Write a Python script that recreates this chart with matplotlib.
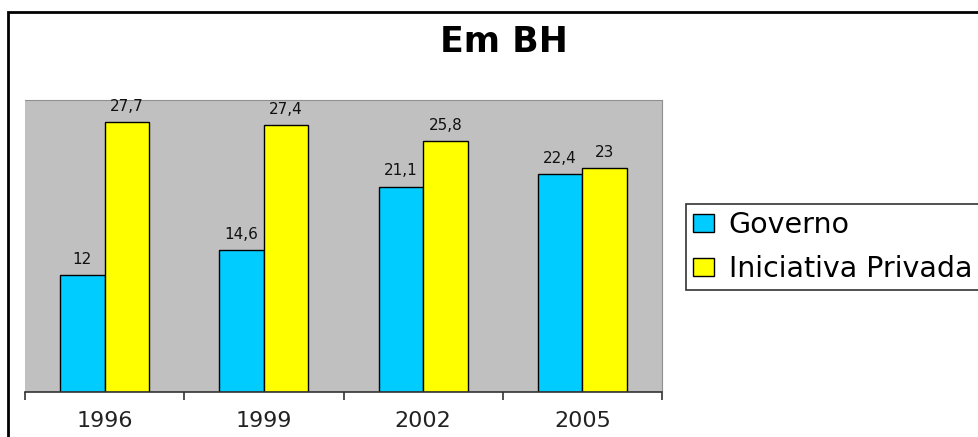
import numpy as np
import matplotlib.pyplot as plt
from matplotlib.patches import Rectangle

anos = ["1996", "1999", "2002", "2005"]
governo = [12, 14.6, 21.1, 22.4]
privada = [27.7, 27.4, 25.8, 23]
rotulos_gov = ["12", "14,6", "21,1", "22,4"]
rotulos_priv = ["27,7", "27,4", "25,8", "23"]

plt.rcParams['font.family'] = ['DejaVu Sans']

fig = plt.figure(figsize=(9.79, 4.37), dpi=100)
ax = fig.add_axes([25 / 979, 1 - 392 / 437, 637 / 979, 292 / 437])
ax.set_facecolor("#C0C0C0")

x = np.arange(len(anos))
w = 0.28
b1 = ax.bar(x - w / 2, governo, w, color="#00CCFF", edgecolor="black", linewidth=1, label="Governo")
b2 = ax.bar(x + w / 2, privada, w, color="#FFFF00", edgecolor="black", linewidth=1, label="Iniciativa Privada")

for rect, txt in zip(b1, rotulos_gov):
    ax.annotate(txt, (rect.get_x() + rect.get_width() / 2, rect.get_height()),
                xytext=(0, 6), textcoords="offset points", ha="center", va="bottom",
                fontsize=11, color="#111111")
for rect, txt in zip(b2, rotulos_priv):
    ax.annotate(txt, (rect.get_x() + rect.get_width() / 2, rect.get_height()),
                xytext=(0, 6), textcoords="offset points", ha="center", va="bottom",
                fontsize=11, color="#111111")

ax.set_xlim(-0.5, len(anos) - 0.5)
ax.set_ylim(0, 30)
ax.set_yticks([])
ax.set_xticks(x)
ax.set_xticklabels(anos, fontsize=16, color="#222222")
ax.tick_params(axis="x", which="major", length=0, pad=14)
ax.set_xticks(np.arange(-0.5, len(anos), 1.0), minor=True)
ax.tick_params(axis="x", which="minor", length=6, width=1.2, color="#333333", direction="out")

for s in ["top", "right"]:
    ax.spines[s].set_color("#909090")
    ax.spines[s].set_linewidth(0.8)
ax.spines["left"].set_visible(False)
ax.spines["bottom"].set_color("#333333")
ax.spines["bottom"].set_linewidth(1.2)

fig.text(504 / 979, 1 - 42.5 / 437, "Em BH", ha="center", va="center",
         fontsize=25, fontweight="bold")

leg = fig.legend(handles=[b1, b2], loc="upper left", bbox_to_anchor=(686 / 979, 1 - 204 / 437),
                 fontsize=20.5, frameon=True, fancybox=False, edgecolor="black",
                 handlelength=0.75, handleheight=0.6, handletextpad=0.5,
                 borderpad=0.25, labelspacing=0.56, borderaxespad=0)
leg.get_frame().set_linewidth(1.2)

fig.patches.append(Rectangle((8 / 979, -0.2), 1.2, 0.2 + 1 - 12 / 437, transform=fig.transFigure,
                             fill=False, edgecolor="black", linewidth=2, clip_on=False))

fig.savefig("out.png", dpi=100)
